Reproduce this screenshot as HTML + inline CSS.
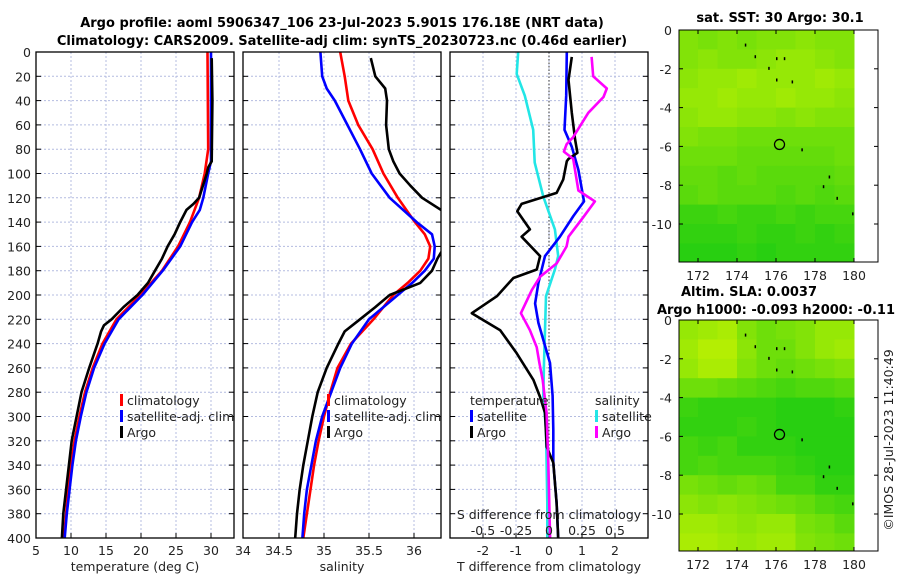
<!DOCTYPE html>
<html><head><meta charset="utf-8"><style>
body{margin:0;background:#fff;}
svg{display:block;font-family:"DejaVu Sans","Liberation Sans",sans-serif;}
</style></head><body>
<svg id="chart" width="900" height="580" viewBox="0 0 900 580" xmlns="http://www.w3.org/2000/svg">
<rect width="900" height="580" fill="#fff"/>
<g font-weight="bold" font-size="13" text-anchor="middle" fill="#000">
<text x="342" y="27">Argo profile: aoml 5906347_106 23-Jul-2023 5.901S 176.18E (NRT data)</text>
<text x="342" y="45">Climatology: CARS2009. Satellite-adj clim: synTS_20230723.nc (0.46d earlier)</text>
</g>
<g id="g1"></g>
<g id="g2"></g>
<g id="g3"></g>
<g id="m1"></g>
<g id="m2"></g>
<text transform="translate(893,440) rotate(-90)" text-anchor="middle" font-size="12.5" fill="#222">©IMOS 28-Jul-2023 11:40:49</text>
</svg>
<script>
// ---- data ----
const depthTicks=[0,20,40,60,80,100,120,140,160,180,200,220,240,260,280,300,320,340,360,380,400];
const tempTicks=[5,10,15,20,25,30];
const salTicks=[34,34.5,35,35.5,36];
const diffTicks=[-2,-1,0,1,2];
const sdiffTicks=[-0.5,-0.25,0,0.25,0.5];
const tClimD=[0,80,100,120,140,160,180,200,220,240,260,280,300,320,340,360,380,400];
const tClimV=[29.5,29.6,29.1,28.3,27.0,25.3,23.0,19.9,16.5,14.5,13.1,12.0,11.2,10.5,10.0,9.6,9.3,9.0];
const tSatD=[0,90,100,120,130,140,160,180,200,220,240,260,280,300,320,340,360,380,400];
const tSatV=[30.0,30.0,29.6,28.9,28.4,27.3,25.6,23.1,20.2,16.8,14.8,13.3,12.2,11.4,10.7,10.2,9.8,9.4,9.1];
const tArgoD=[5,40,90,95,100,120,125,130,140,150,160,170,180,190,200,210,220,225,230,240,260,280,300,320,340,360,380,400];
const tArgoV=[30.1,30.2,30.1,29.6,29.4,28.3,27.5,26.5,25.6,24.8,23.8,23.0,22.0,21.0,19.5,17.5,15.8,14.7,14.3,13.8,12.6,11.5,10.8,10.1,9.7,9.3,8.9,8.7];
const sClimD=[0,20,40,60,80,100,120,140,150,160,170,180,190,200,220,240,260,280,300,320,340,360,380,400];
const sClimV=[35.18,35.23,35.27,35.38,35.54,35.66,35.82,36.01,36.12,36.18,36.16,36.07,35.93,35.77,35.55,35.3,35.15,35.07,35.0,34.94,34.89,34.85,34.81,34.77];
const sSatD=[0,20,30,40,60,80,100,120,140,150,160,170,180,190,200,220,240,260,280,300,320,340,360,380,400];
const sSatV=[34.96,34.98,35.03,35.12,35.26,35.4,35.53,35.73,36.03,36.2,36.23,36.22,36.12,35.98,35.82,35.5,35.31,35.18,35.08,34.98,34.91,34.86,34.81,34.78,34.76];
const sArgoD=[5,20,30,40,60,80,90,100,110,120,130,140,155,165,170,180,190,200,210,220,230,240,260,280,300,320,340,360,380,400];
const sArgoV=[35.52,35.57,35.68,35.7,35.69,35.72,35.77,35.84,35.96,36.09,36.3,36.45,36.45,36.3,36.26,36.2,36.07,35.73,35.57,35.4,35.23,35.16,35.03,34.93,34.87,34.82,34.77,34.73,34.7,34.68];
const dTSatD=[0,36,64,78,97,123,135,152,168,190,207,223,256,283,311,338,371,400];
const dTSatV=[0.54,0.52,0.47,0.69,0.89,1.06,0.74,0.33,-0.12,-0.32,-0.42,-0.32,0.03,0.11,0.13,0.13,0.23,0.28];
const dTArgoD=[4,23,50,72,83,88,90,105,116,125,131,146,152,168,179,186,201,215,229,248,270,284,297,325,338,371,400];
const dTArgoV=[0.69,0.59,0.69,0.79,0.86,0.59,0.54,0.43,0.23,-0.83,-0.96,-0.58,-0.83,-0.27,-0.37,-1.08,-1.58,-2.34,-1.48,-0.98,-0.47,-0.27,-0.12,-0.07,0.13,0.23,0.28];
const dSSatD=[0,18,36,64,91,119,146,168,179,201,229,256,283,311,338,371,400];
const dSSatV=[-0.233,-0.245,-0.183,-0.12,-0.108,-0.043,0.045,0.07,0.045,-0.023,-0.03,-0.038,-0.043,-0.023,-0.018,-0.013,-0.013];
const dSArgoD=[4,20,30,37,50,70,76,82,88,114,123,136,152,160,174,185,196,215,229,243,256,270,297,338,400];
const dSArgoV=[0.323,0.335,0.438,0.413,0.298,0.183,0.133,0.113,0.183,0.223,0.348,0.26,0.148,0.133,0.058,-0.068,-0.13,-0.213,-0.145,-0.093,-0.073,-0.048,-0.018,-0.005,0.008];
const mapLons=[171,172,173,174,175,176,177,178,179];
const mapLats=[0,-1,-2,-3,-4,-5,-6,-7,-8,-9,-10,-11];
const sstGrid=[
[0.6,0.55,0.6,0.55,0.6,0.6,0.65,0.6,0.6],
[0.6,0.65,0.6,0.6,0.65,0.7,0.7,0.65,0.6],
[0.65,0.7,0.7,0.75,0.7,0.7,0.7,0.75,0.7],
[0.7,0.7,0.75,0.7,0.7,0.75,0.7,0.7,0.65],
[0.65,0.7,0.7,0.65,0.65,0.6,0.65,0.6,0.6],
[0.6,0.55,0.55,0.5,0.5,0.5,0.5,0.5,0.5],
[0.5,0.5,0.5,0.45,0.45,0.45,0.45,0.45,0.5],
[0.45,0.45,0.4,0.45,0.4,0.4,0.4,0.4,0.45],
[0.4,0.45,0.4,0.4,0.4,0.35,0.4,0.35,0.4],
[0.25,0.25,0.3,0.25,0.25,0.3,0.25,0.3,0.3],
[0.2,0.2,0.2,0.25,0.2,0.2,0.25,0.2,0.25],
[0.15,0.15,0.15,0.2,0.15,0.2,0.2,0.2,0.2]];
const slaGrid=[
[0.7,0.75,0.8,0.6,0.5,0.55,0.6,0.7,0.7],
[0.75,0.85,0.85,0.65,0.5,0.5,0.6,0.7,0.75],
[0.7,0.8,0.8,0.6,0.5,0.45,0.5,0.55,0.6],
[0.5,0.5,0.45,0.4,0.35,0.3,0.35,0.35,0.4],
[0.25,0.2,0.2,0.2,0.2,0.15,0.15,0.15,0.2],
[0.2,0.2,0.2,0.25,0.2,0.15,0.15,0.15,0.15],
[0.3,0.25,0.3,0.2,0.2,0.2,0.15,0.15,0.15],
[0.3,0.35,0.3,0.3,0.3,0.25,0.2,0.15,0.15],
[0.55,0.5,0.45,0.5,0.45,0.3,0.3,0.2,0.2],
[0.65,0.6,0.65,0.6,0.55,0.5,0.45,0.35,0.3],
[0.75,0.75,0.7,0.65,0.7,0.7,0.55,0.5,0.4],
[0.8,0.8,0.75,0.7,0.75,0.75,0.6,0.55,0.5]];
const lonTicks=[172,174,176,178,180];
const latTicks=[0,-2,-4,-6,-8,-10];
const argoLon=176.18, argoLat=-5.9;

// ---- helpers ----
const NS='http://www.w3.org/2000/svg';
function mk(tag,attrs,parent){const e=document.createElementNS(NS,tag);for(const k in attrs)e.setAttribute(k,attrs[k]);parent.appendChild(e);return e;}
const TOP=52,BOT=538;
const FS=12.5;
const yD=d=>TOP+d*(BOT-TOP)/400;

function panel(g,x0,x1,xs,ticks,tickLbl,showY,clipId){
  const defs=mk('defs',{},g);
  const cp=mk('clipPath',{id:clipId},defs);
  mk('rect',{x:x0,y:TOP,width:x1-x0,height:BOT-TOP},cp);
  for(const d of depthTicks){ if(d===0||d===400)continue;
    const l=mk('line',{x1:x0,x2:x1,y1:yD(d),y2:yD(d),stroke:'#b4bce0','stroke-width':1,'stroke-dasharray':'2,2'},g);
    
    
  }
  for(const t of ticks){const x=xs(t); if(x<=x0+1||x>=x1-1)continue;
    const l=mk('line',{x1:x,x2:x,y1:TOP,y2:BOT,stroke:'#b4bce0','stroke-width':1,'stroke-dasharray':'2,2'},g);
    
    
  }
  for(const d of depthTicks){
    mk('line',{x1:x0,x2:x0+5,y1:yD(d),y2:yD(d),stroke:'#000'},g);
    mk('line',{x1:x1,x2:x1-5,y1:yD(d),y2:yD(d),stroke:'#000'},g);
    if(showY){const t=mk('text',{x:x0-5,y:yD(d)+5,'text-anchor':'end','font-size':FS,fill:'#222'},g);t.textContent=d;
      
      }
  }
  for(const t of ticks){const x=xs(t);
    mk('line',{x1:x,x2:x,y1:BOT,y2:BOT-5,stroke:'#000'},g);
    if(tickLbl){const tx=mk('text',{x:x,y:BOT+17,'text-anchor':'middle','font-size':FS,fill:'#222'},g);tx.textContent=t;
      
      }
  }
  return clipId;
}
function line(g,D,V,xs,color,name,clip,w){
  const pts=D.map((d,i)=>xs(V[i]).toFixed(1)+','+yD(d).toFixed(1)).join(' ');
  const p=mk('polyline',{points:pts,fill:'none',stroke:color,'stroke-width':w||2.6,'stroke-linejoin':'round','clip-path':'url(#'+clip+')'},g);
  
  
}
function frame(g,x0,x1){const r=mk('rect',{x:x0,y:TOP,width:x1-x0,height:BOT-TOP,fill:'none',stroke:'#000','stroke-width':1.3},g);
  
  }
function legend(g,x,y,items){
  items.forEach((it,i)=>{
    if(it.c) mk('rect',{x:x,y:y+i*16-11,width:3,height:12,fill:it.c},g);
    const t=mk('text',{x:x+(it.c?7:0),y:y+i*16,'font-size':FS,fill:'#222'},g);t.textContent=it.t;
    
    
  });
}
function label(g,x,y,txt,name){const t=mk('text',{x:x,y:y,'text-anchor':'middle','font-size':FS,fill:'#222'},g);t.textContent=txt;
  
  }

// ---- panel 1 temperature ----
const g1=document.getElementById('g1');
const xT=v=>36+(v-5)*7;
panel(g1,36,234,xT,tempTicks,true,true,'c1');
line(g1,tClimD,tClimV,xT,'#f00','temp-climatology-line','c1');
line(g1,tSatD,tSatV,xT,'#00f','temp-satellite-line','c1');
line(g1,tArgoD,tArgoV,xT,'#000','temp-argo-line','c1');
frame(g1,36,234);
legend(g1,120,405,[{c:'#f00',t:'climatology'},{c:'#00f',t:'satellite-adj. clim'},{c:'#000',t:'Argo'}]);
label(g1,135,571,'temperature (deg C)','x-axis-title');

// ---- panel 2 salinity ----
const g2=document.getElementById('g2');
const xS=v=>234+(v-34)*90;
panel(g2,243,441,xS,salTicks.slice(1),true,false,'c2');
{const t=mk('text',{x:243,y:BOT+17,'text-anchor':'middle','font-size':FS,fill:'#222'},g2);t.textContent='34';
 
 }
line(g2,sClimD,sClimV,xS,'#f00','sal-climatology-line','c2');
line(g2,sSatD,sSatV,xS,'#00f','sal-satellite-line','c2');
line(g2,sArgoD,sArgoV,xS,'#000','sal-argo-line','c2');
frame(g2,243,441);
legend(g2,327,405,[{c:'#f00',t:'climatology'},{c:'#00f',t:'satellite-adj. clim'},{c:'#000',t:'Argo'}]);
label(g2,342,571,'salinity','x-axis-title');

// ---- panel 3 differences ----
const g3=document.getElementById('g3');
const xDT=v=>549+v*33;
const xDS=v=>549+v*132;
panel(g3,450,648,xDT,diffTicks,false,false,'c3');
for(const t of diffTicks){const tx=mk('text',{x:xDT(t),y:BOT+17,'text-anchor':'middle','font-size':FS,fill:'#222'},g3);tx.textContent=t;
  
  }
{const z=mk('line',{x1:xDT(0),x2:xDT(0),y1:TOP,y2:BOT,stroke:'#333','stroke-width':1,'stroke-dasharray':'1.5,2'},g3);
 
 }
line(g3,dSSatD,dSSatV,xDS,'#22e6e6','sal-diff-satellite-line','c3');
line(g3,dTSatD,dTSatV,xDT,'#00f','temp-diff-satellite-line','c3');
line(g3,dTArgoD,dTArgoV,xDT,'#000','temp-diff-argo-line','c3');
line(g3,dSArgoD,dSArgoV,xDS,'#f0f','sal-diff-argo-line','c3');
frame(g3,450,648);
legend(g3,470,405,[{t:'temperature'},{c:'#00f',t:'satellite'},{c:'#000',t:'Argo'}]);
legend(g3,595,405,[{t:'salinity'},{c:'#22e6e6',t:'satellite'},{c:'#f0f',t:'Argo'}]);
label(g3,549,519,'S difference from climatology','s-diff-axis-title');
for(const t of sdiffTicks){const tx=mk('text',{x:xDS(t),y:535,'text-anchor':'middle','font-size':FS,fill:'#222'},g3);tx.textContent=t;
  
  }
label(g3,549,571,'T difference from climatology','x-axis-title');

// ---- maps ----
function cmap(v){const r=Math.round(10+v*200),gg=Math.round(200+v*45),b=Math.round(20-v*20);return 'rgb('+r+','+gg+','+b+')';}
function map(g,top,bot,grid,titles){
  const xL=v=>698+(v-172)*19.5;
  const yL=v=>top+(-v)*19.4;
  titles.forEach(t=>{const tx=mk('text',{x:t.x,y:t.y,'text-anchor':'middle','font-size':13,'font-weight':'bold',fill:'#000'},g);tx.textContent=t.s;
    
    });
  grid.forEach((row,i)=>row.forEach((v,j)=>{
    const x=xL(mapLons[j]),y=yL(mapLats[i]);
    const h=Math.min(yL(mapLats[i]-1),bot)-y;
    const c=mk('rect',{x:x.toFixed(1),y:y.toFixed(1),width:(xL(mapLons[j]+1)-x+0.5).toFixed(1),height:(h+0.5).toFixed(1),fill:cmap(v)},g);
    
    
  }));
  const isl=[[174.4,-0.7],[174.9,-1.3],[175.6,-1.9],[176,-1.4],[176.4,-1.4],[176,-2.5],[176.8,-2.6],[177.3,-6.1],[178.4,-8.0],[178.7,-7.5],[179.1,-8.6],[179.9,-9.4]];
  isl.forEach(p=>{const e=mk('rect',{x:xL(p[0]),y:yL(p[1]),width:1.5,height:3,fill:'#000'},g);
    
    });
  const c=mk('circle',{cx:xL(argoLon),cy:yL(argoLat),r:5,fill:'none',stroke:'#000','stroke-width':1.3},g);
  
  
  const fr=mk('rect',{x:679,y:top,width:199,height:bot-top,fill:'none',stroke:'#000','stroke-width':1},g);
  
  
  lonTicks.forEach(t=>{mk('line',{x1:xL(t),x2:xL(t),y1:bot,y2:bot-4,stroke:'#000'},g);mk('line',{x1:xL(t),x2:xL(t),y1:top,y2:top+4,stroke:'#000'},g);
    const tx=mk('text',{x:xL(t),y:bot+18,'text-anchor':'middle','font-size':FS,fill:'#222'},g);tx.textContent=t;
    
    });
  latTicks.forEach(t=>{mk('line',{x1:679,x2:683,y1:yL(t),y2:yL(t),stroke:'#000'},g);mk('line',{x1:878,x2:874,y1:yL(t),y2:yL(t),stroke:'#000'},g);
    const tx=mk('text',{x:672,y:yL(t)+5,'text-anchor':'end','font-size':FS,fill:'#222'},g);tx.textContent=t;
    
    });
}
map(document.getElementById('m1'),30,262,sstGrid,[{x:780,y:22,s:'sat. SST: 30 Argo: 30.1'}]);
map(document.getElementById('m2'),320,551,slaGrid,[{x:749,y:296,s:'Altim. SLA: 0.0037'},{x:776,y:314,s:'Argo h1000: -0.093 h2000: -0.11'}]);
</script>
</body></html>
